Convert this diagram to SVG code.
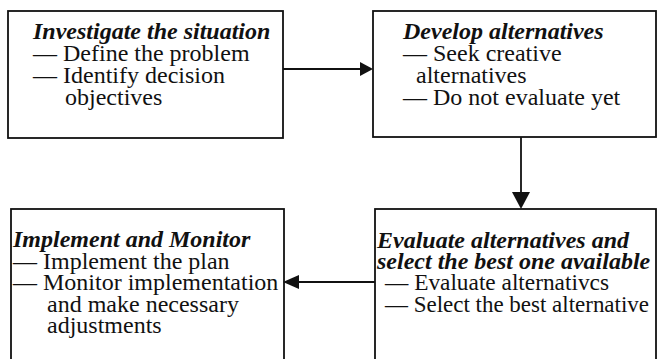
<svg xmlns="http://www.w3.org/2000/svg" width="658" height="359" viewBox="0 0 658 359">
<style>
.box{fill:#fff;stroke:#111;stroke-width:1.8}
.ln{stroke:#111;stroke-width:1.8;fill:none}
.ah{fill:#111}
.h{font-weight:bold;font-style:italic}
</style>
<rect width="658" height="359" fill="#fff"/>
<g font-family="Liberation Serif, Times New Roman, DejaVu Serif, serif" font-size="24" fill="#111">
<g id="investigate">
<rect class="box" x="8" y="11" width="275" height="127"/>
<text class="h" x="33" y="39">Investigate the situation</text>
<text x="33" y="61">— Define the problem</text>
<text x="33" y="83">— Identify decision</text>
<text x="65" y="105">objectives</text>
</g>
<g id="develop">
<rect class="box" x="373" y="11" width="283" height="126"/>
<text class="h" x="403" y="39">Develop alternatives</text>
<text x="403" y="61">— Seek creative</text>
<text x="416" y="83">alternatives</text>
<text x="403" y="105">— Do not evaluate yet</text>
</g>
<g id="evaluate">
<rect class="box" x="375" y="209" width="281" height="160"/>
<text class="h" x="377" y="248">Evaluate alternatives and</text>
<text class="h" x="377" y="269">select the best one available</text>
<text x="385" y="290" textLength="224" lengthAdjust="spacingAndGlyphs">— Evaluate alternativcs</text>
<text x="385" y="312" textLength="264" lengthAdjust="spacingAndGlyphs">— Select the best alternative</text>
</g>
<g id="implement">
<rect class="box" x="11" y="209" width="273" height="160"/>
<text class="h" x="13" y="247">Implement and Monitor</text>
<text x="13" y="269">— Implement the plan</text>
<text x="13" y="290">— Monitor implementation</text>
<text x="47" y="312">and make necessary</text>
<text x="47" y="333">adjustments</text>
</g>
</g>
<g id="connectors">
<line class="ln" x1="283" y1="69" x2="362" y2="69"/>
<polygon class="ah" points="373,69 360,62 360,76"/>
<line class="ln" x1="521" y1="137" x2="521" y2="194"/>
<polygon class="ah" points="521,209 512,192 530,192"/>
<line class="ln" x1="375" y1="282" x2="296" y2="282"/>
<polygon class="ah" points="283,282 299,275 299,289"/>
</g>
</svg>
